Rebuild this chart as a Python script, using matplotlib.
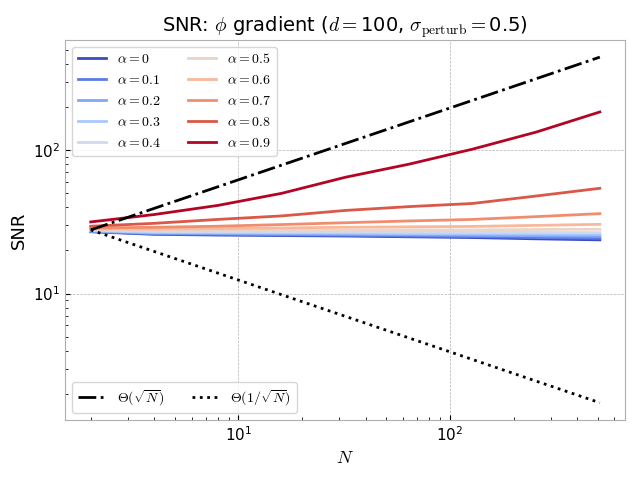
import matplotlib
matplotlib.use("Agg")
import matplotlib.pyplot as plt
import numpy as np

plt.rcParams['mathtext.fontset'] = 'cm'

# sample sizes
N = [2, 4, 8, 16, 32, 64, 128, 256, 512]

alphas = [0, 0.1, 0.2, 0.3, 0.4, 0.5, 0.6, 0.7, 0.8, 0.9]

# SNR curves, one per alpha
snr_a00 = [27.0, 25.9, 25.6, 25.4, 25.2, 24.9, 24.6, 24.1, 23.7]
snr_a01 = [27.1, 26.1, 25.9, 25.7, 25.5, 25.2, 25.0, 24.6, 24.3]
snr_a02 = [27.3, 26.4, 26.2, 26.0, 25.9, 25.7, 25.5, 25.3, 25.1]
snr_a03 = [27.5, 26.7, 26.6, 26.5, 26.4, 26.2, 26.1, 26.0, 25.9]
snr_a04 = [27.7, 27.1, 27.0, 26.9, 26.9, 26.8, 26.7, 26.7, 26.6]
snr_a05 = [28.0, 27.6, 27.6, 27.7, 27.7, 27.8, 27.8, 28.0, 28.1]
snr_a06 = [28.3, 28.2, 28.4, 28.7, 29.0, 29.2, 29.4, 29.9, 30.4]
snr_a07 = [28.7, 29.0, 29.5, 30.3, 31.2, 32.1, 32.9, 34.4, 36.1]
snr_a08 = [29.5, 30.9, 32.9, 34.8, 38.0, 40.4, 42.5, 47.9, 54.2]
snr_a09 = [31.6, 35.6, 41.2, 50.0, 64.7, 79.8, 101.6, 133.6, 184.5]

snr_all = [snr_a00, snr_a01, snr_a02, snr_a03, snr_a04,
           snr_a05, snr_a06, snr_a07, snr_a08, snr_a09]

# reference scaling lines anchored at N=2
anchor = 27.8

fig, ax = plt.subplots(figsize=(6.4, 4.8), dpi=100)
fig.subplots_adjust(left=0.102, right=0.977, top=0.917, bottom=0.125)

colors = plt.cm.coolwarm(np.linspace(0, 1, len(alphas)))
lines = []
for a, s, c in zip(alphas, snr_all, colors):
    l, = ax.plot(N, s, color=c, lw=2, label=r'$\alpha = %s$' % a)
    lines.append(l)

Narr = np.array(N, dtype=float)
t1, = ax.plot(N, anchor * np.sqrt(Narr / N[0]), 'k-.', lw=2, label=r'$\Theta(\sqrt{N})$')
t2, = ax.plot(N, anchor / np.sqrt(Narr / N[0]), 'k:', lw=2, label=r'$\Theta(1/\sqrt{N})$')

ax.set_xscale('log')
ax.set_yscale('log')
ax.set_xlabel(r'$N$', fontsize=13)
ax.set_ylabel('SNR', fontsize=13)
ax.set_title(r'SNR: $\phi$ gradient ($d=$100, $\sigma_{\mathrm{perturb}}=$0.5)', fontsize=14)

ax.grid(True, which='major', ls='--', lw=0.5, color='#b0b0b0')
ax.tick_params(which='both', direction='in', labelsize=11)
for sp in ax.spines.values():
    sp.set_color('#b0b0b0')

leg1 = ax.legend(handles=lines, loc='upper left', ncol=2, fontsize=10)
ax.add_artist(leg1)
ax.legend(handles=[t1, t2], loc='lower left', ncol=2, fontsize=10)

fig.savefig('out.png')
